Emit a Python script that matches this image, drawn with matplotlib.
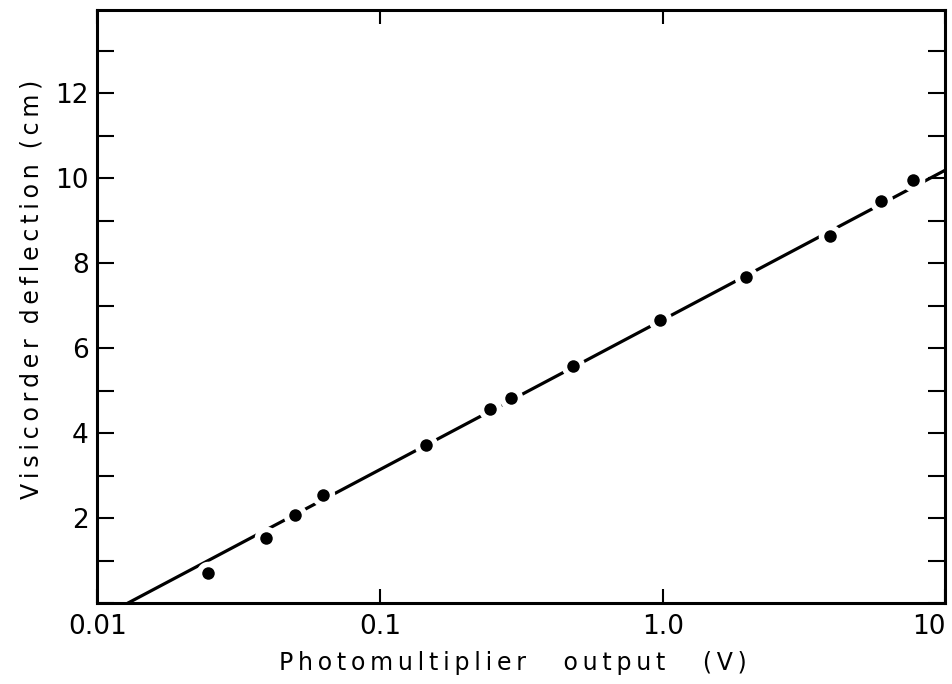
''' Visicorder deflection vs photomultiplier output (semi-log) '''

import matplotlib
matplotlib.use("Agg")
from matplotlib import pyplot as plt
from matplotlib.ticker import FixedLocator, MultipleLocator, NullLocator

# measured points
pm_output = [0.0247, 0.0395, 0.050, 0.063, 0.145, 0.245, 0.29, 0.48, 0.98, 1.97, 3.9, 5.9, 7.7]
deflection = [0.71, 1.53, 2.07, 2.54, 3.72, 4.56, 4.82, 5.58, 6.66, 7.67, 8.64, 9.46, 9.95]

# fitted straight line (end points)
fit_x = [0.0128, 10.0]
fit_y = [0.0, 10.19]

x_ticks = [0.01, 0.1, 1.0, 10]
x_labels = ["0.01", "0.1", "1.0", "10"]
y_ticks = [2, 4, 6, 8, 10, 12]


def spaced(words, gap="    "):
    # thin space between letters, wider gap between words
    return gap.join("\u2009".join(w) for w in words)


plt.rcParams['font.family'] = ['DejaVu Sans']

fig = plt.figure(figsize=(9.53, 6.84), dpi=100)
ax = fig.add_axes([0.102, 0.118, 0.890, 0.867])

ax.plot(fit_x, fit_y, color="black", lw=2.3, solid_capstyle="butt", zorder=2)
ax.plot(pm_output, deflection, "o", color="white", ms=17, mew=0, zorder=3)
ax.plot(pm_output, deflection, "o", color="black", ms=9, mew=0, zorder=4)

ax.set_xscale("log")
ax.set_xlim(0.01, 10)
ax.set_ylim(0, 13.95)

ax.xaxis.set_major_locator(FixedLocator(x_ticks))
ax.xaxis.set_minor_locator(NullLocator())
ax.set_xticklabels(x_labels)
ax.xaxis.get_ticklabels()[-1].set_horizontalalignment("right")
ax.yaxis.set_major_locator(FixedLocator(y_ticks))
ax.yaxis.set_minor_locator(MultipleLocator(1))

ax.tick_params(axis="both", which="both", direction="in", top=True, right=True,
               width=1.5, labelsize=19)
ax.tick_params(axis="y", which="both", length=12)
ax.tick_params(axis="x", which="both", length=10, pad=8)
ax.tick_params(axis="y", pad=6)

for s in ax.spines.values():
    s.set_linewidth(2.2)

ax.set_xlabel(spaced(["Photomultiplier", "output", "(V)"], gap="     "),
              fontsize=17)
ax.xaxis.set_label_coords(0.49, -0.08)
ax.set_ylabel(spaced(["Visicorder", "deflection", "(cm)"], gap="  "),
              fontsize=17)
ax.yaxis.set_label_coords(-0.063, 0.53)

fig.savefig("out.png", dpi=100)
